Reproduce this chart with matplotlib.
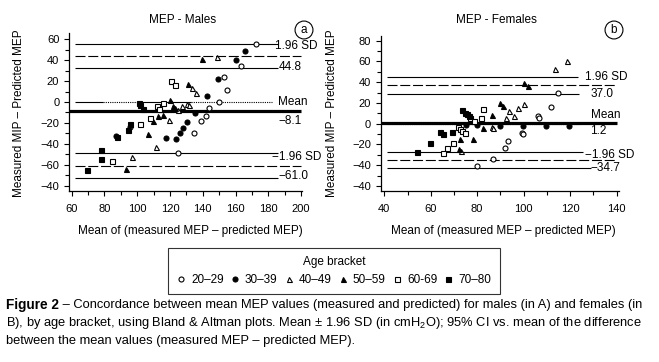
import numpy as np
import matplotlib
matplotlib.use('Agg')
import matplotlib.pyplot as plt
from matplotlib.lines import Line2D

plt.rcParams['font.family'] = ['Liberation Sans', 'DejaVu Sans']
plt.rcParams['mathtext.fontset'] = 'custom'
plt.rcParams['mathtext.rm'] = 'Liberation Sans'

# ---- data ----
age_groups = ['20\u201329', '30\u201339', '40\u201349', '50\u201359', '60-69', '70\u201380']

# males (panel a)
m_x = {
    '20\u201329': [172.3, 163.2, 153.2, 154.7, 150.0, 143.9, 141.9, 138.9, 134.8, 125.1, 95.8],
    '30\u201339': [165.8, 160.1, 149.4, 142.3, 135.4, 130.1, 128.1, 126.1, 123.8, 117.8, 86.9],
    '40\u201349': [148.6, 133.2, 135.8, 127.4, 130.1, 131.8, 124.7, 119.2, 111.6, 96.6],
    '50\u201359': [139.3, 131.0, 119.7, 121.7, 123.1, 116.0, 112.5, 109.6, 106.3, 93.0],
    '60-69': [120.7, 123.1, 116.0, 112.2, 113.2, 107.9, 102.0, 84.5],
    '70\u201380': [100.8, 101.4, 103.5, 95.8, 94.2, 87.7, 78.2, 78.2, 69.1],
}
m_y = {
    '20\u201329': [55.5, 34.4, 23.6, 11.5, 0.3, -6.0, -13.4, -17.9, -29.4, -48.5, -24.2],
    '30\u201339': [49.1, 40.2, 22.0, 5.7, -10.2, -18.8, -24.6, -30.0, -35.2, -34.6, -32.5],
    '40\u201349': [42.8, 13.7, 8.3, -3.8, -1.9, -2.9, -7.7, -17.2, -42.7, -52.3],
    '50\u201359': [41.1, 16.9, 1.9, -3.5, -6.0, -12.4, -13.4, -17.9, -30.9, -64.1],
    '60-69': [20.1, 16.0, -1.3, -3.8, -7.0, -15.0, -21.4, -56.5],
    '70\u201380': [-1.3, -3.2, -7.0, -21.4, -26.8, -33.8, -45.9, -54.5, -65.4],
}

# females (panel b)
f_x = {
    '20\u201329': [114.9, 111.6, 106.0, 106.7, 99.1, 99.6, 93.4, 91.8, 86.7, 80.0],
    '30\u201339': [75.2, 80.0, 89.8, 99.6, 109.6, 119.6],
    '40\u201349': [118.8, 113.6, 100.3, 97.4, 93.8, 95.8, 92.3, 86.2, 86.9, 73.0],
    '50\u201359': [100.3, 102.0, 89.8, 91.1, 86.2, 82.3, 78.0, 72.6, 72.1],
    '60-69': [82.6, 81.6, 77.1, 78.8, 71.6, 72.6, 73.6, 74.7, 69.4, 66.9, 65.1],
    '70\u201380': [73.6, 74.7, 75.7, 76.6, 64.0, 65.1, 69.0, 59.7, 54.0],
}
f_y = {
    '20\u201329': [29.3, 16.4, 7.7, 5.2, -8.6, -9.6, -16.6, -23.7, -34.0, -40.4],
    '30\u201339': [-0.8, -1.3, -1.9, -1.9, -1.9, -1.9],
    '40\u201349': [60.8, 52.5, 19.0, 14.9, 12.3, 7.5, 5.3, -2.8, -3.8, -26.0],
    '50\u201359': [39.6, 36.4, 20.3, 17.1, 8.5, -4.4, -15.1, -15.1, -24.7],
    '60-69': [14.2, 5.8, 5.8, 3.0, -2.9, -5.4, -6.7, -8.6, -18.3, -23.1, -27.9],
    '70\u201380': [13.2, 10.0, 9.0, 7.4, -7.7, -9.6, -7.7, -18.9, -27.3],
}

# reference lines and their right-hand labels
m_lines = [55.5, 44.0, 32.2, 0.0, -9.0, -49.0, -61.2, -73.0]
f_lines = [45.3, 37.0, 28.6, 0.0, 1.0, -27.3, -35.0, -42.7]
m_labels = ['1.96 SD', '44.8', 'Mean', '\u22128.1', '\u22121.96 SD', '\u221261.0']
m_label_y = [53.5, 33.0, 0.0, -18.0, -53.0, -71.0]
f_labels = ['1.96 SD', '37.0', 'Mean', '1.2', '\u22121.96 SD', '\u221234.7']
f_label_y = [45.3, 28.3, 8.4, -6.7, -30.0, -43.0]

m_yticks = [60, 40, 20, 0, -20, -40, -60, -80]
m_yticklabels = ['60', '40', '20', '0', '\u221220', '\u221240', '\u221260', '\u221240']
f_yticks = [80, 60, 40, 20, 0, -20, -40, -60]
f_yticklabels = ['80', '60', '40', '20', '0', '\u221220', '\u221240', '\u221240']

styles = {
    '20\u201329': dict(marker='o', mfc='white'),
    '30\u201339': dict(marker='o', mfc='black'),
    '40\u201349': dict(marker='^', mfc='white'),
    '50\u201359': dict(marker='^', mfc='black'),
    '60-69': dict(marker='s', mfc='white'),
    '70\u201380': dict(marker='s', mfc='black'),
}

W, H = 659, 362
fig = plt.figure(figsize=(W / 100, H / 100), dpi=100)
axL = fig.add_axes([69 / W, 1 - 191 / H, 233 / W, 158 / H])
axR = fig.add_axes([380.7 / W, 1 - 191 / H, 238.6 / W, 155 / H])


def draw_points(ax, xs, ys):
    for g in age_groups:
        st = styles[g]
        ax.plot(xs[g], ys[g], linestyle='none', marker=st['marker'], mfc=st['mfc'],
                mec='black', mew=0.8, ms=3.6, zorder=3)


def style_axis(ax, xlim, ylim, xticks, yticks, yticklabels):
    ax.set_xlim(*xlim)
    ax.set_ylim(*ylim)
    for s in ['top', 'right']:
        ax.spines[s].set_visible(False)
    for s in ['left', 'bottom']:
        ax.spines[s].set_linewidth(0.9)
    ax.set_xticks(xticks)
    ax.set_xticks(np.arange(xticks[0], xticks[-1] + 1, 10), minor=True)
    ax.set_yticks(yticks)
    ax.set_yticklabels(yticklabels)
    ax.set_yticks(np.arange(min(yticks), max(yticks) + 1, 10), minor=True)
    ax.tick_params(which='major', direction='out', length=3.5, width=0.8, labelsize=8)
    ax.tick_params(axis='x', which='major', pad=5.5)
    ax.tick_params(axis='y', which='major', pad=3.5)
    ax.tick_params(which='minor', direction='out', length=3, width=0.8)


# ---- panel a: males ----
axL.hlines(m_lines[0], 62, 186, color='black', lw=0.8)
axL.hlines(m_lines[1], 62, 200, color='black', lw=0.8, linestyles=[(0, (9, 2.5))])
axL.hlines(m_lines[2], 62, 186, color='black', lw=0.8)
axL.hlines(m_lines[3], 62, 79, color='black', lw=0.8)
axL.hlines(m_lines[3], 79, 100, color='black', lw=0.8, linestyles=[(0, (1, 1))])
axL.hlines(m_lines[3], 100, 133, color='black', lw=0.8)
axL.hlines(m_lines[3], 133, 182, color='black', lw=0.8, linestyles=[(0, (1, 1))])
axL.hlines(m_lines[4], 58.5, 200, color='black', lw=2.3)
axL.hlines(m_lines[5], 62, 186, color='black', lw=0.8)
axL.hlines(m_lines[6], 62, 200, color='black', lw=0.8, linestyles=[(0, (9, 2.5))])
axL.hlines(m_lines[7], 62, 186, color='black', lw=0.8)
draw_points(axL, m_x, m_y)
for lab, yy in zip(m_labels, m_label_y):
    xx = 182 if lab.endswith('SD') and lab.startswith('\u2212') else 184 if lab.endswith('SD') else 186
    axL.text(xx, yy, lab, fontsize=8.5, va='center', ha='left')
style_axis(axL, (58.4, 200.5), (-85.2, 66), [60, 80, 100, 120, 140, 160, 180, 200],
           m_yticks, m_yticklabels)
axL.set_ylabel('Measured MIP \u2013 Predicted MEP', fontsize=8.5)
axL.set_xlabel('Mean of (measured MEP \u2013 predicted MEP)', fontsize=8.5)
axL.yaxis.set_label_coords(-0.189, 0.494)
axL.xaxis.set_label_coords(0.519, -0.215)

# ---- panel b: females ----
axR.hlines(f_lines[0], 41, 123.5, color='black', lw=0.8)
axR.hlines(f_lines[1], 41, 140, color='black', lw=0.8, linestyles=[(0, (9, 2.5))])
axR.hlines(f_lines[2], 41, 124, color='black', lw=0.8)
axR.hlines(f_lines[3], 41, 124, color='black', lw=0.8, linestyles=[(0, (1, 1))])
axR.hlines(f_lines[4], 38.5, 140, color='black', lw=2.3)
axR.hlines(f_lines[5], 41, 125.5, color='black', lw=0.8)
axR.hlines(f_lines[6], 41, 140, color='black', lw=0.8, linestyles=[(0, (9, 2.5))])
axR.hlines(f_lines[7], 41, 129, color='black', lw=0.8)
draw_points(axR, f_x, f_y)
for lab, yy in zip(f_labels, f_label_y):
    xx = 126.4 if lab.endswith('SD') else 128.8
    axR.text(xx, yy, lab, fontsize=8.5, va='center', ha='left')
style_axis(axR, (38.45, 141.2), (-64.8, 84.5), [40, 60, 80, 100, 120, 140],
           f_yticks, f_yticklabels)
axR.set_ylabel('Measured MIP \u2013 Predicted MEP', fontsize=8.5)
axR.set_xlabel('Mean of (measured MEP \u2013 predicted MEP)', fontsize=8.5)
axR.yaxis.set_label_coords(-0.179, 0.503)
axR.xaxis.set_label_coords(0.513, -0.22)

# titles and panel letters
fig.text(183 / W, 1 - 20 / H, 'MEP - Males', fontsize=8.5, ha='center', va='center')
fig.text(496 / W, 1 - 20 / H, 'MEP - Females', fontsize=8.5, ha='center', va='center')
for px, letter in [(304, 'a'), (614, 'b')]:
    fig.text(px / W, 1 - 30 / H, letter, fontsize=8.5, ha='center', va='center',
             bbox=dict(boxstyle='circle,pad=0.25', fc='white', ec='black', lw=0.8))

# legend
handles = [Line2D([], [], linestyle='none', marker=styles[g]['marker'], mfc=styles[g]['mfc'],
                  mec='black', mew=0.8, ms=3.6) for g in age_groups]
leg = fig.legend(handles, age_groups, ncol=6, title='Age bracket', loc='center',
                 bbox_to_anchor=(333.8 / W, 1 - 270.8 / H), frameon=True, fancybox=False,
                 edgecolor='black', fontsize=8.5, title_fontsize=8.5, handlelength=0.8,
                 handletextpad=0.45, columnspacing=0.55, borderpad=0.7)
leg.get_frame().set_linewidth(0.8)

# caption
renderer = fig.canvas.get_renderer()
t = fig.text(6 / W, 1 - 305 / H, 'Figure 2', fontsize=9.8, weight='bold', va='center')
bb = t.get_window_extent(renderer=renderer)
fig.text(bb.x1 / W, 1 - 305 / H,
         ' \u2013 Concordance between mean MEP values (measured and predicted) for males (in A) and females (in',
         fontsize=9.3, va='center')
fig.text(6 / W, 1 - 323 / H,
         'B), by age bracket, using Bland & Altman plots. Mean \u00b1 1.96 SD (in cmH$_2$O); 95% CI vs. mean of the difference',
         fontsize=9.3, va='center')
fig.text(6 / W, 1 - 341 / H,
         'between the mean values (measured MEP \u2013 predicted MEP).',
         fontsize=9.3, va='center')

fig.savefig('out.png', dpi=100)
